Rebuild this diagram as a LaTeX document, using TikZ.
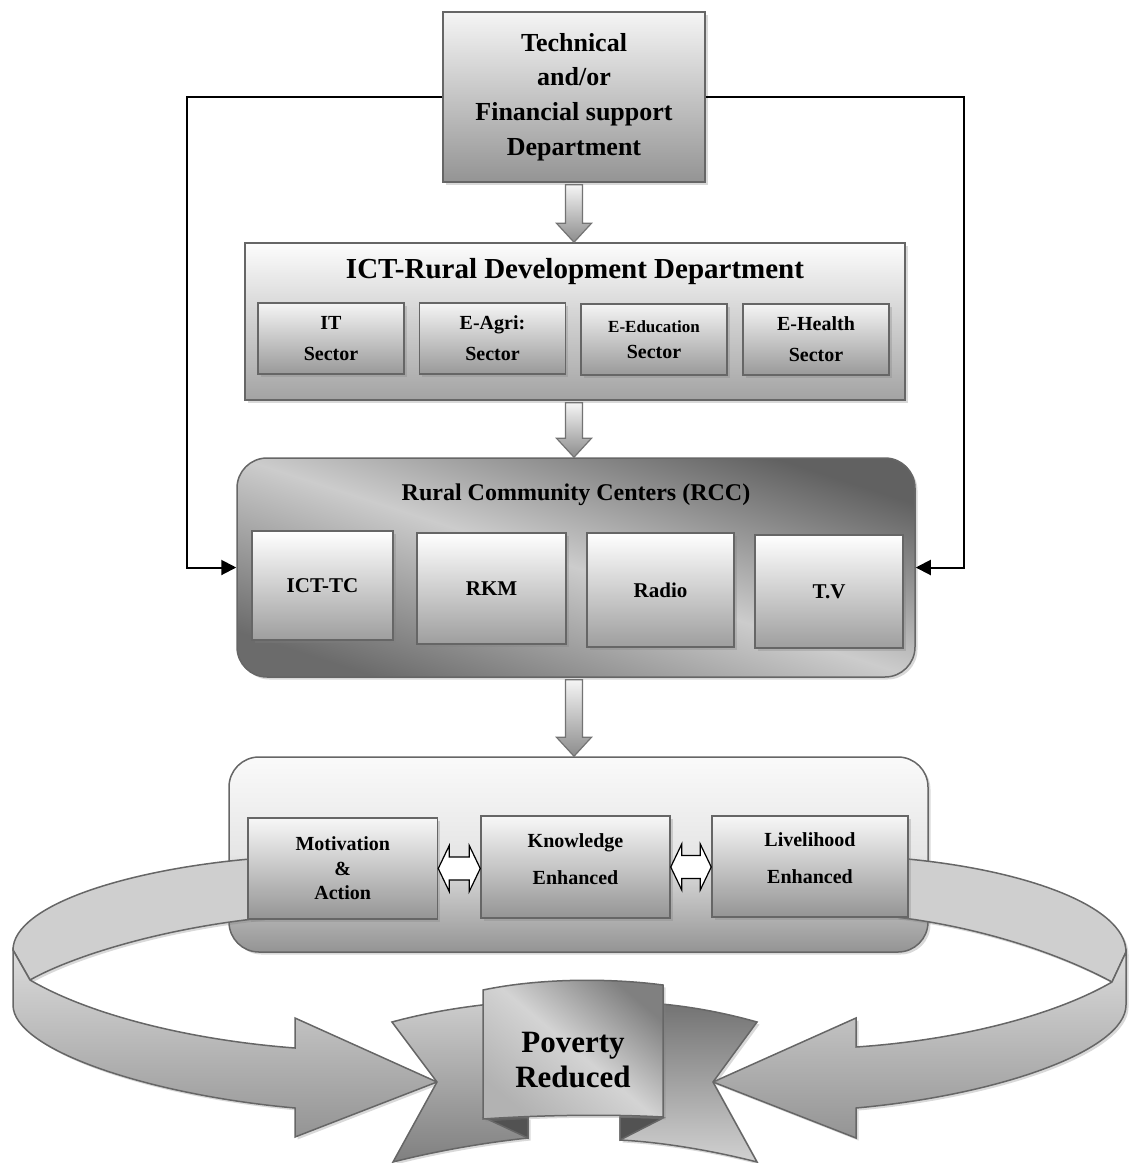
\documentclass[tikz,border=0pt]{standalone}
\usepackage{fontspec}
\setmainfont{Liberation Serif}
\usetikzlibrary{shapes}
\usetikzlibrary{calc,shadows,arrows.meta}

\tikzset{
  boxshadow/.style={drop shadow={shadow xshift=2.5pt,shadow yshift=-2.5pt,opacity=.3}},
  dept/.style={rectangle, draw=black!60, line width=1.5pt, boxshadow, top color=black!4, bottom color=black!40, inner sep=0pt, align=center},
  sectorbox/.style={dept, minimum width=146, minimum height=71, font=\fontsize{20}{31}\selectfont\bfseries},
  mediabox/.style={dept, top color=white, bottom color=black!38, font=\fontsize{21}{25}\selectfont\bfseries},
  outcome/.style={dept, top color=black!3, bottom color=black!42, font=\fontsize{20}{24.5}\selectfont\bfseries},
  roundframe/.style={dept, rounded corners=30},
  boxtitle/.style={inner sep=0pt},
  sidelink/.style={draw=black, line width=2pt, -{Triangle[length=15pt,width=15pt]}},
  blockarrow/.style={draw=black!55, line width=1.2pt, top color=black!4, bottom color=black!45},
  swaparrow/.style={draw=black, fill=white, line width=1.2pt},
  loopband/.style={draw=black!60, line width=1.5pt, fill=black!19, boxshadow},
  loopfront/.style={draw=black!60, line width=1.5pt, top color=black!14, bottom color=black!42, boxshadow},
  ribbon/.style={draw=black!60, line width=1.5pt}
}

\newcommand{\flowdown}[2]{%
  \draw[blockarrow] ($(#1)+(-8.5,0)$) -- ($(#1)+(8.5,0)$) -- ($(#2)+(8.5,-19)$) -- ($(#2)+(17.5,-19)$)
    -- (#2) -- ($(#2)+(-17.5,-19)$) -- ($(#2)+(-8.5,-19)$) -- cycle;}
\newcommand{\twoway}[2]{%
  \draw[swaparrow] (#1.east) -- ($(#1.east)+(11,-23)$) -- ($(#1.east)+(11,-11.5)$)
    -- ($(#1.east -| #2.west)+(-11,-11.5)$) -- ($(#1.east -| #2.west)+(-11,-23)$) -- (#1.east -| #2.west)
    -- ($(#1.east -| #2.west)+(-11,23)$) -- ($(#1.east -| #2.west)+(-11,11.5)$)
    -- ($(#1.east)+(11,11.5)$) -- ($(#1.east)+(11,23)$) -- cycle;}

\begin{document}
\begin{tikzpicture}[x=1pt,y=-1pt]
		\useasboundingbox (0,0) rectangle (1129,1163);
		
		% support and department
		\node[dept, bottom color=black!42, minimum width=262, minimum height=170, font=\fontsize{26}{34.7}\selectfont\bfseries] (tech) at (574,97) {Technical\\and/or\\Financial support\\Department};
		\node[dept, top color=black!1, bottom color=black!36, minimum width=660, minimum height=157] (ictrd) at (575,321.5) {};
		\node[boxtitle, font=\fontsize{29}{34}\selectfont\bfseries] (ictrdname) at (575,272) {ICT-Rural Development Department};
		\node[sectorbox] (it) at (331,338.5) {IT\\Sector};
		\node[sectorbox] (agri) at (492.5,338.5) {E-Agri:\\Sector};
		\node[sectorbox] (edu) at (654,339.5) {{\fontsize{17}{20}\selectfont E-Education}\\[-5pt]Sector};
		\node[sectorbox] (health) at (816,339.5) {E-Health\\Sector};
		
		% rural community centers
		\node[roundframe, minimum width=678, minimum height=219, top color=black!62, bottom color=black!58, middle color=black!20, shading angle=-18] (rcc) at (576,567.5) {};
		\node[boxtitle, font=\fontsize{24}{28}\selectfont\bfseries] (rccname) at (576,495) {Rural Community Centers (RCC)};
		\node[mediabox, minimum width=141, minimum height=109] (ictc) at (322.5,585.5) {ICT-TC};
		\node[mediabox, minimum width=149, minimum height=111] (rkm) at (491.5,588.5) {RKM};
		\node[mediabox, minimum width=147, minimum height=114] (radio) at (660.5,590) {Radio};
		\node[mediabox, minimum width=148, minimum height=113] (tv) at (829,591.5) {T.V};
		
		\draw[sidelink] (tech.west) -- ++(-255,0) |- (rcc.west);
		\draw[sidelink] (tech.east) -- ++(258,0) |- (rcc.east);
		
		\coordinate (a1s) at ($(tech.south)+(0,2)$);
		\coordinate (a1e) at (tech.south |- ictrd.north);
		\coordinate (a2s) at ($(tech.south |- ictrd.south)+(0,2)$);
		\coordinate (a2e) at (tech.south |- rcc.north);
		\flowdown{a1s}{a1e}
		\flowdown{a2s}{a2e}
		
		% results
		\node[roundframe, top color=black!2, bottom color=black!42, middle color=black!10, minimum width=699, minimum height=195] (results) at (578.5,854.5) {};
		\coordinate (a3s) at ($(tech.south |- rcc.south)+(0,2)$);
		\coordinate (a3e) at (tech.south |- results.north);
		\flowdown{a3s}{a3e}
		
		% loops round to the banner
		\path[loopband] (262,858) .. controls (130,868) and (13,905) .. (13,950) -- (30,980) .. controls (65,960) and (150,930) .. (262,918) -- cycle;
		\path[loopfront] (13,950) -- (30,980) .. controls (90,1015) and (190,1040) .. (295,1048) -- (295,1018) -- (437,1082) -- (295,1137) -- (295,1108) .. controls (150,1095) and (13,1050) .. (13,1005) -- cycle;
		\path[loopband] (896,858) .. controls (1020,868) and (1126,905) .. (1126,952) -- (1112,982) .. controls (1075,962) and (1000,930) .. (896,917) -- cycle;
		\path[loopfront] (1126,952) -- (1112,982) .. controls (1055,1015) and (960,1040) .. (856,1047) -- (856,1018) -- (713,1082) -- (856,1138) -- (856,1108) .. controls (1000,1095) and (1126,1050) .. (1126,1005) -- cycle;
		
		\node[outcome, minimum width=189.5, minimum height=101] (motiv) at (342.75,868.5) {Motivation\\\&\\Action};
		\node[outcome, minimum width=189, minimum height=102] (know) at (575.5,867) {Knowledge\\[12.5pt]Enhanced\\[-8pt]\mbox{}};
		\node[outcome, minimum width=196, minimum height=101] (live) at (810,866.5) {Livelihood\\[12.5pt]Enhanced\\[-8pt]\mbox{}};
		\twoway{motiv}{know}
		\twoway{know}{live}
		
		% banner
		\draw[ribbon, boxshadow, top color=black!20, bottom color=black!50] (500,1003) .. controls (460,1007) and (425,1013) .. (392,1022) -- (437,1082) -- (393,1162) .. controls (440,1150) and (490,1142) .. (528,1138) -- (528,1117) -- (500,1117) -- cycle;
		\draw[ribbon, boxshadow, top color=black!55, bottom color=black!18] (650,1003) .. controls (690,1006) and (725,1013) .. (757,1022) -- (713,1082) -- (757,1162) .. controls (710,1150) and (660,1142) .. (620,1140) -- (620,1117) -- (650,1117) -- cycle;
		\draw[ribbon, fill=black!68] (485,1118) -- (528,1117) -- (528,1138) -- cycle;
		\draw[ribbon, fill=black!68] (620,1117) -- (663,1118) -- (620,1140) -- cycle;
		\draw[ribbon, boxshadow, top color=black!50, bottom color=black!30, middle color=black!17, shading angle=-40] (483,990) .. controls (540,978) and (610,978) .. (663,985) -- (663,1117) .. controls (610,1114) and (540,1115) .. (483,1119) -- cycle;
		\node[boxtitle, align=center, font=\fontsize{31}{35}\selectfont\bfseries] (poverty) at (573,1060) {Poverty\\Reduced};
		
\end{tikzpicture}
\end{document}
